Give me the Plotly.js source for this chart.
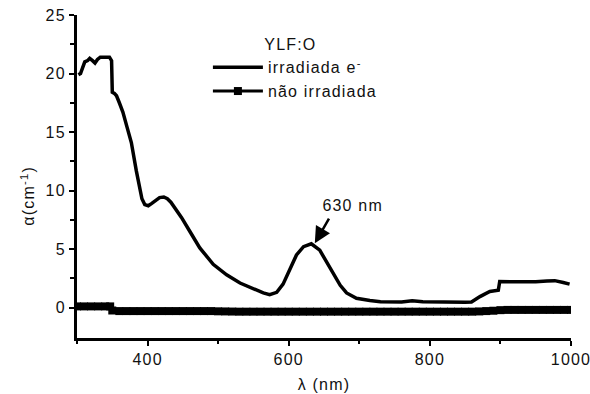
<!DOCTYPE html>
<html>
<head>
<meta charset="utf-8">
<script src="https://cdn.plot.ly/plotly-3.0.1.min.js"></script>
<style>
  html, body { margin: 0; padding: 0; background: #fff; }
  #chart { width: 590px; height: 394px; }
  .main-svg text { letter-spacing: 1.2px; }
  .main-svg .legend .scrollbox { clip-path: none !important; }
</style>
</head>
<body>
<div id="chart"></div>
<script>
// irradiated sample (irradiada e-)
const irrWavelength = [302, 305, 308, 311, 315, 318, 322, 325.5, 329, 333, 340, 346, 349, 350,
  353, 356, 360, 365, 371, 377, 384, 388, 392, 396, 401, 406, 411, 417, 423, 428, 433, 440, 448,
  460, 474, 493, 512, 531, 550, 564, 573, 583, 592, 602, 611, 621, 632, 644, 654, 663, 673, 682,
  696, 715, 730, 760, 775, 790, 820, 850, 859, 871, 885, 897, 899, 910, 932, 950, 966, 977, 989, 998];
const irrAlpha = [19.9, 20.0, 20.5, 21.0, 21.1, 21.3, 21.1, 20.9, 21.2, 21.4, 21.4, 21.4, 21.1, 18.4,
  18.3, 18.1, 17.5, 16.7, 15.4, 14.1, 11.7, 10.4, 9.3, 8.8, 8.7, 8.9, 9.1, 9.4, 9.45, 9.3, 9.0, 8.4, 7.7,
  6.5, 5.1, 3.7, 2.8, 2.1, 1.6, 1.25, 1.1, 1.3, 2.0, 3.4, 4.5, 5.2, 5.45, 4.9, 3.9, 2.9, 1.9, 1.25,
  0.8, 0.6, 0.5, 0.48, 0.58, 0.5, 0.45, 0.45, 0.48, 0.94, 1.37, 1.48, 2.22, 2.2, 2.2, 2.2, 2.26, 2.3, 2.14, 2.0];

// non-irradiated sample (não irradiada)
const nonWavelength = [300, 310, 320, 330, 340, 347, 350, 360, 370, 380, 390, 400, 410, 420, 430, 440,
  450, 460, 470, 480, 490, 500, 510, 520, 530, 540, 550, 560, 570, 580, 590, 600, 610, 620, 630, 640,
  650, 660, 670, 680, 690, 700, 710, 720, 730, 740, 750, 760, 770, 780, 790, 800, 810, 820, 830, 840,
  850, 860, 870, 880, 890, 900, 910, 920, 930, 940, 950, 960, 970, 980, 990, 1000];
const nonAlpha = [0.1, 0.1, 0.1, 0.1, 0.1, 0.1, -0.25, -0.3, -0.3, -0.3, -0.3, -0.3, -0.3, -0.3, -0.3, -0.3,
  -0.3, -0.3, -0.3, -0.3, -0.3, -0.32, -0.33, -0.34, -0.35, -0.35, -0.35, -0.35, -0.35, -0.35, -0.35, -0.35, -0.35, -0.35, -0.35, -0.35,
  -0.35, -0.35, -0.35, -0.35, -0.35, -0.35, -0.35, -0.35, -0.35, -0.35, -0.35, -0.35, -0.35, -0.35, -0.35, -0.35, -0.35, -0.35, -0.35, -0.35,
  -0.35, -0.35, -0.33, -0.3, -0.27, -0.22, -0.2, -0.2, -0.2, -0.2, -0.2, -0.2, -0.2, -0.2, -0.2, -0.2];

const xTickVals = [400, 600, 800, 1000];
const yTickVals = [0, 5, 10, 15, 20, 25];

const FONT = 'Liberation Sans, Arial, sans-serif';

const traces = [
  {
    x: irrWavelength, y: irrAlpha, name: 'irradiada e<sup>-</sup>',
    mode: 'lines', line: { color: '#000', width: 3.5 }
  },
  {
    x: nonWavelength, y: nonAlpha, name: 'não irradiada',
    mode: 'lines+markers', line: { color: '#000', width: 3 },
    marker: { symbol: 'square', size: 8, color: '#000' }
  }
];

const layout = {
  width: 590, height: 394,
  margin: { l: 77, r: 19, t: 15, b: 56 },
  paper_bgcolor: '#fff', plot_bgcolor: '#fff',
  font: { family: FONT, size: 16, color: '#111' },
  showlegend: true,
  legend: {
    x: 0.265, y: 0.955, xanchor: 'left', yanchor: 'top',
    bgcolor: 'rgba(0,0,0,0)', borderwidth: 0, itemwidth: 50,
    font: { family: FONT, size: 16, color: '#111' },
    title: { text: 'YLF:O', side: 'top center', font: { family: FONT, size: 16, color: '#111' } },
    tracegroupgap: 0
  },
  xaxis: {
    range: [300, 1000], tickvals: xTickVals, ticktext: xTickVals.map(String),
    showgrid: false, zeroline: false, showline: true, linecolor: '#000', linewidth: 3,
    ticks: 'outside', ticklen: 5, tickwidth: 2, tickcolor: '#000',
    minor: { tickvals: [300, 500, 700, 900], ticks: 'outside', ticklen: 3, tickwidth: 2, tickcolor: '#000' },
    title: { text: 'λ (nm)', font: { family: FONT, size: 16, color: '#111' }, standoff: 12 }
  },
  yaxis: {
    range: [-2.6, 25], tickvals: yTickVals, ticktext: yTickVals.map(String),
    showgrid: false, zeroline: false, showline: true, linecolor: '#000', linewidth: 3,
    ticks: 'outside', ticklen: 5, tickwidth: 2, tickcolor: '#000',
    minor: { tickvals: [2.5, 7.5, 12.5, 17.5, 22.5], ticks: 'outside', ticklen: 4, tickwidth: 2, tickcolor: '#000' }
  },
  annotations: [
    {
      xref: 'paper', yref: 'paper', x: -0.1, y: 0.44, xanchor: 'center', yanchor: 'middle',
      text: 'α(cm<sup>-1</sup>)', textangle: -90, showarrow: false,
      font: { family: FONT, size: 16, color: '#111' }
    },
    {
      x: 637, y: 5.5, xref: 'x', yref: 'y', text: '', showarrow: true,
      ax: 15, ay: -26, arrowhead: 2, arrowsize: 1.3, arrowwidth: 2.5, arrowcolor: '#000', standoff: 0
    },
    {
      x: 690, y: 8.7, xref: 'x', yref: 'y', text: '630 nm', showarrow: false,
      font: { family: FONT, size: 16, color: '#111' }
    }
  ]
};

Plotly.newPlot('chart', traces, layout, { displayModeBar: false, staticPlot: true });
</script>
</body>
</html>
